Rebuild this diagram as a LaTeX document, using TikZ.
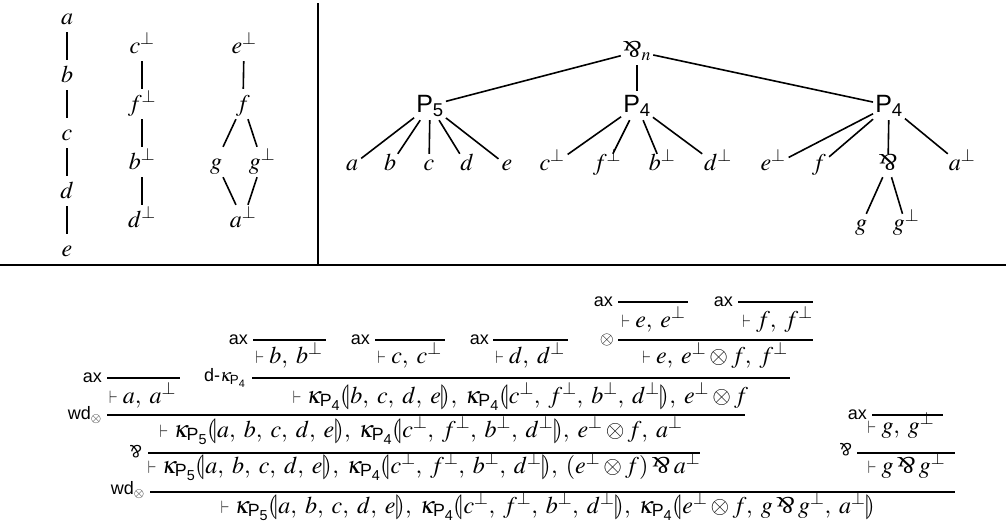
\documentclass[tikz,border=0pt]{standalone}
\usepackage{amsmath}
\usepackage{mathptmx}
\usepackage{stmaryrd}
\usepackage{graphicx}
\usepackage{fontspec}
\setmainfont{Liberation Serif}
\setsansfont{Liberation Sans}
\thinmuskip=6mu
\newcommand\parrglyph{\text{\rotatebox[origin=c]{180}{\&}}}
\newcommand\parrop{\mathbin{\parrglyph}}
\newcommand\kP[1]{\kappa_{\textsf{P}_{\textsf{#1}}}}
\newcommand\lbn{\llparenthesis}
\newcommand\rbn{\rrparenthesis}
\newcommand\myvd{\mathrel{\resizebox{8.5pt}{12.5pt}{$\vdash$}}}
\tikzset{
  mytop/.style={font=\fontsize{24}{28}\selectfont},
  mycol/.style={mytop, anchor=base, text height=18pt, text depth=4pt, inner sep=4pt},
  myleaf/.style={mytop, anchor=base, text height=13pt, text depth=4pt, inner sep=3pt},
  myroot/.style={mytop, anchor=base, text height=17pt, text depth=6pt, inner sep=2pt},
  mypn/.style={font=\sffamily\fontsize{25}{29}\selectfont, anchor=base, text height=19pt, text depth=6pt, inner sep=2pt},
  mylink/.style={line width=1.6pt},
  mysep/.style={line width=2.6pt},
  myseq/.style={font=\fontsize{24}{28}\selectfont, anchor=base, inner sep=0pt, text height=16pt, text depth=5pt},
  myrn/.style={font=\sffamily\fontsize{18}{20}\selectfont, anchor=east, inner sep=0pt},
  mybar/.style={line width=1.8pt},
}
\begin{document}
\begin{tikzpicture}[x=1pt,y=-1pt]
\useasboundingbox (0,0) rectangle (1006,530);
% separators
\draw[mysep] (0,265) -- (1006,265);
\draw[mysep] (318,3) -- (318,265);
% column 1
\node[mycol] (a1) at (67,24) {$a$};
\node[mycol] (b1) at (67,82) {$b$};
\node[mycol] (c1) at (67,140) {$c$};
\node[mycol] (d1) at (67,198) {$d$};
\node[mycol] (e1) at (67,256) {$e$};
\draw[mylink] (a1) -- (b1) (b1) -- (c1) (c1) -- (d1) (d1) -- (e1);
% column 2
\node[mycol] (c2) at (142,53) {$c^\perp$};
\node[mycol] (f2) at (142,111) {$f^\perp$};
\node[mycol] (b2) at (142,169) {$b^\perp$};
\node[mycol] (d2) at (142,227) {$d^\perp$};
\draw[mylink] (c2) -- (f2) (f2) -- (b2) (b2) -- (d2);
% column 3
\node[mycol] (e3) at (244,53) {$e^\perp$};
\node[mycol] (f3) at (243,111) {$f$};
\node[mycol] (g3) at (216,169) {$g$};
\node[mycol] (gp3) at (262,169) {$g^\perp$};
\node[mycol] (a3) at (243,227) {$a^\perp$};
\draw[mylink] (e3) -- (f3) (f3) -- (g3) (f3) -- (gp3) (g3) -- (a3) (gp3) -- (a3);
% tree
\node[myroot] (pn) at (637,57) {$\parrglyph_n$};
\node[mypn] (P5) at (430,112) {$\textsf{P}_{\textsf{5}}$};
\node[mypn] (P4a) at (637,112) {$\textsf{P}_{\textsf{4}}$};
\node[mypn] (P4b) at (889,112) {$\textsf{P}_{\textsf{4}}$};
\draw[mylink] (pn) -- (P5) (pn) -- (P4a) (pn) -- (P4b);
\node[myleaf] (la) at (352,170) {$a$};
\node[myleaf] (lb) at (390,170) {$b$};
\node[myleaf] (lc) at (429,170) {$c$};
\node[myleaf] (ld) at (467,170) {$d$};
\node[myleaf] (le) at (507,170) {$e$};
\draw[mylink] (P5) -- (la) (P5) -- (lb) (P5) -- (lc) (P5) -- (ld) (P5) -- (le);
\node[myleaf] (lcp) at (552,170) {$c^\perp$};
\node[myleaf] (lfp) at (607,170) {$f^\perp$};
\node[myleaf] (lbp) at (662,170) {$b^\perp$};
\node[myleaf] (ldp) at (718,170) {$d^\perp$};
\draw[mylink] (P4a) -- (lcp) (P4a) -- (lfp) (P4a) -- (lbp) (P4a) -- (ldp);
\node[myleaf] (lep) at (773,170) {$e^\perp$};
\node[myleaf] (lf) at (819,170) {$f$};
\node[myleaf] (lpar) at (888,170) {$\parrglyph$};
\node[myleaf] (lap) at (962,170) {$a^\perp$};
\draw[mylink] (P4b) -- (lep) (P4b) -- (lf) (P4b) -- (lpar) (P4b) -- (lap);
\node[myleaf] (lg) at (861,230) {$g$};
\node[myleaf] (lgp) at (906,230) {$g^\perp$};
\draw[mylink] (lpar) -- (lg) (lpar) -- (lgp);
% proof: axioms
\node[myrn] (l1) at (102,378) {ax};
\draw[mybar] (107,378) -- (180,378);
\node[myseq] (t1) at (142.5,403) {$\myvd a, a^\perp$};
\node[myrn] (l2) at (248,340) {ax};
\draw[mybar] (253,340) -- (326,340);
\node[myseq] (t2) at (289,363) {$\myvd b, b^\perp$};
\node[myrn] (l3) at (370,340) {ax};
\draw[mybar] (375,340) -- (445,340);
\node[myseq] (t3) at (409.5,363) {$\myvd c, c^\perp$};
\node[myrn] (l4) at (489,340) {ax};
\draw[mybar] (493,340) -- (568,340);
\node[myseq] (t4) at (530,363) {$\myvd d, d^\perp$};
\node[myrn] (l5) at (613,302) {ax};
\draw[mybar] (618,302) -- (688,302);
\node[myseq] (t5) at (653.5,327) {$\myvd e, e^\perp$};
\node[myrn] (l6) at (733,302) {ax};
\draw[mybar] (738,302) -- (813,302);
\node[myseq] (t6) at (777.5,327) {$\myvd f, f^\perp$};
% tensor
\node[myrn] (l7) at (614,340) {$\otimes$};
\draw[mybar] (618,340) -- (813,340);
\node[myseq] (t7) at (715,363) {$\myvd e, e^\perp \otimes f, f^\perp$};
% d-kappa
\node[myrn] (l8) at (246,378) {d-$\kP{4}$};
\draw[mybar] (252,378) -- (790,378);
\node[myseq] (t8) at (520.5,403) {$\myvd \kP{4}\lbn b,c,d,e\rbn, \kP{4}\lbn c^\perp,f^\perp,b^\perp,d^\perp\rbn, e^\perp\otimes f$};
% wd
\node[myrn] (l9) at (102,415) {wd$_\otimes$};
\draw[mybar] (107,415) -- (745,415);
\node[myseq] (t9) at (421,437) {$\myvd \kP{5}\lbn a,b,c,d,e\rbn, \kP{4}\lbn c^\perp,f^\perp,b^\perp,d^\perp\rbn, e^\perp\otimes f, a^\perp$};
% parr
\node[myrn] (l10) at (142,452) {$\parrglyph$};
\draw[mybar] (148,453) -- (700,453);
\node[myseq] (t10) at (424,473) {$\myvd \kP{5}\lbn a,b,c,d,e\rbn, \kP{4}\lbn c^\perp,f^\perp,b^\perp,d^\perp\rbn, (e^\perp\otimes f)\parrop a^\perp$};
% g branch
\node[myrn] (l11) at (867,415) {ax};
\draw[mybar] (872,415) -- (943,415);
\node[myseq] (t11) at (901,433) {$\myvd g, g^\perp$};
\node[myrn] (l12) at (852,450) {$\parrglyph$};
\draw[mybar] (857,453) -- (955,453);
\node[myseq] (t12) at (906.5,473) {$\myvd g \parrop g^\perp$};
% final
\node[myrn] (l13) at (145,490) {wd$_\otimes$};
\draw[mybar] (150,492) -- (955,492);
\node[myseq] (t13) at (548,513) {$\myvd \kP{5}\lbn a,b,c,d,e\rbn, \kP{4}\lbn c^\perp,f^\perp,b^\perp,d^\perp\rbn, \kP{4}\lbn e^\perp\otimes f, g\parrop g^\perp, a^\perp\rbn$};
\end{tikzpicture}
\end{document}
